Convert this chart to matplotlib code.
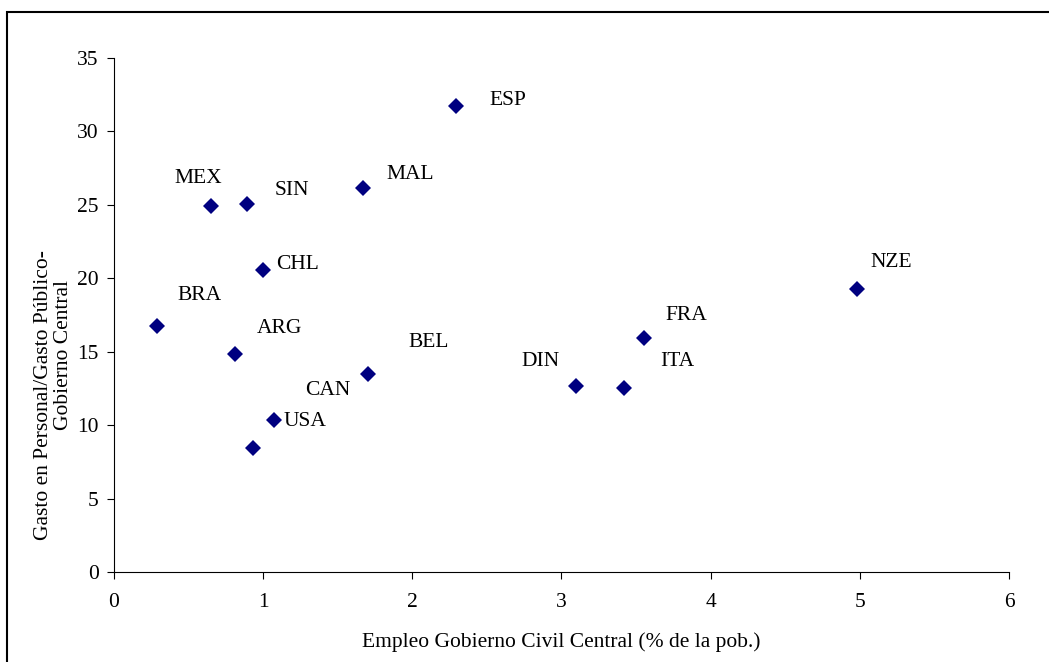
import matplotlib
matplotlib.use("Agg")
import matplotlib.pyplot as plt
from matplotlib.patches import Rectangle

plt.rcParams["font.family"] = ["Liberation Serif", "DejaVu Serif"]

# datos
paises = ["BRA", "ARG", "USA", "CAN", "CHL", "MEX", "SIN", "MAL", "ESP",
          "BEL", "DIN", "ITA", "FRA", "NZE"]
empleo = [0.29, 0.81, 0.93, 1.07, 1.00, 0.65, 0.89, 1.67, 2.29,
          1.70, 3.10, 3.42, 3.55, 4.98]
gasto = [16.75, 14.84, 8.44, 10.35, 20.56, 24.9, 25.05, 26.14, 31.7,
         13.48, 12.65, 12.5, 15.95, 19.3]

# desplazamiento de cada etiqueta (pixeles, x a la derecha, y hacia arriba)
offsets = [(42, 31), (45, 26), (52, 27), (54, 30), (34, 6), (-13, 28),
           (45, 14), (47, 14), (52, 6), (61, 32), (-36, 25), (53, 27),
           (43, 22), (34, 26)]

fs = 15.5
W, H = 1049, 662

fig = plt.figure(figsize=(W / 100, H / 100), dpi=100)
ax = fig.add_axes([114 / W, 1 - 572 / H, 895 / W, 514 / H])

ax.plot(empleo, gasto, linestyle="none", marker="D", markersize=8,
        color="#000080", markeredgewidth=0)

for p, x, y, (dx, dy) in zip(paises, empleo, gasto, offsets):
    ax.annotate(p, (x, y), xytext=(dx * 0.72, dy * 0.72),
                textcoords="offset points", ha="center", va="center",
                fontsize=fs)

ax.set_xlim(0, 6)
ax.set_ylim(0, 35)
ax.set_xticks(range(0, 7))
ax.set_yticks(range(0, 36, 5))
ax.tick_params(direction="out", length=5, width=0.8, labelsize=fs, pad=6)
ax.tick_params(axis="x", pad=10)
ax.spines["top"].set_visible(False)
ax.spines["right"].set_visible(False)
ax.set_xlabel("Empleo Gobierno Civil Central (% de la pob.)", fontsize=fs,
              labelpad=15)

# titulo del eje y en dos lineas, como en el original
fig.text(44 / W, 1 - 395 / H, "Gasto en Personal/Gasto Público-",
         rotation=90, ha="center", va="center", fontsize=fs)
fig.text(64 / W, 1 - 355 / H, "Gobierno Central",
         rotation=90, ha="center", va="center", fontsize=fs)

# marco exterior
fig.patches.append(Rectangle((7 / W, -0.05), 1.2, 1 - 12 / H + 0.05,
                             transform=fig.transFigure, fill=False,
                             edgecolor="black", linewidth=1.5))

fig.savefig("out.png", dpi=100)
